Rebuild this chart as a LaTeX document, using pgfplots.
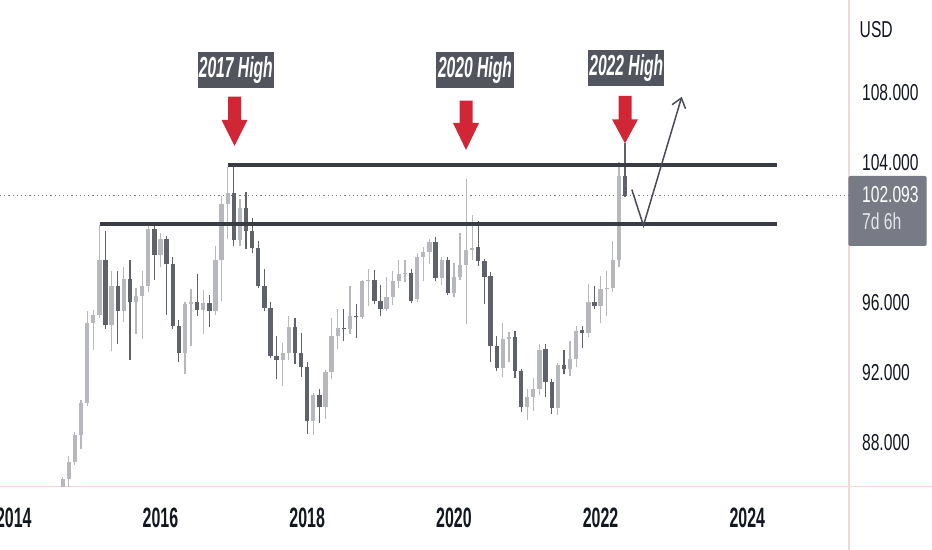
\documentclass[border=0pt]{standalone}
\usepackage{pgfplots}
\pgfplotsset{compat=1.18}
\usepackage{pgfplotstable}
\usetikzlibrary{arrows.meta}
\usepackage{fontspec}
\setmainfont{Liberation Sans}[FakeStretch=0.68]
\newfontfamily\annfont{Liberation Sans}[FakeStretch=0.54]
\newfontfamily\xfont{Liberation Sans}[FakeStretch=0.57]

\definecolor{upc}{RGB}{182,184,190}
\definecolor{dnc}{RGB}{95,98,106}
\definecolor{lvl}{RGB}{58,60,68}
\definecolor{zig}{RGB}{74,76,85}
\definecolor{annbg}{RGB}{82,85,94}
\definecolor{arr}{RGB}{209,38,54}
\definecolor{pinkb}{RGB}{247,214,218}
\definecolor{tagbg}{RGB}{120,123,134}
\definecolor{txt}{RGB}{19,23,34}
\definecolor{dotc}{RGB}{120,123,134}

% t = year + month/12 (Jan = .000)
\pgfplotstableread{
t o h l c
2014.667 82.75 86.05 82.60 85.94
2014.750 85.94 87.20 84.47 86.87
2014.833 86.87 88.60 86.70 88.40
2014.917 88.40 90.40 87.60 90.27
2015.000 90.27 95.50 90.06 94.80
2015.083 94.80 95.55 93.30 95.30
2015.167 95.30 100.45 95.10 98.40
2015.333 94.70 97.80 93.20 96.95
2015.500 95.50 98.00 94.90 97.35
2015.667 96.00 96.80 94.20 96.35
2015.750 96.35 97.80 93.90 96.95
2015.833 96.95 100.45 96.60 100.20
2016.000 98.70 99.95 98.00 99.60
2016.333 93.10 96.00 91.90 95.90
2016.417 95.90 96.75 93.50 96.05
2016.583 95.55 96.70 94.20 95.95
2016.750 95.50 99.20 95.30 98.45
2016.833 98.45 102.10 96.10 101.60
2016.917 101.60 103.75 99.60 102.25
2017.083 99.55 101.90 99.20 101.40
2017.667 92.70 93.70 91.20 93.10
2017.750 93.10 95.20 92.70 94.60
2018.083 89.20 90.80 88.40 90.70
2018.250 90.05 92.15 89.35 92.00
2018.333 92.00 95.10 91.60 94.10
2018.417 94.10 95.60 93.35 94.55
2018.583 94.50 96.95 94.20 95.20
2018.750 95.15 97.30 95.05 97.20
2018.833 97.20 97.90 95.80 97.30
2019.083 95.65 97.45 95.50 96.30
2019.167 96.30 97.80 95.85 97.25
2019.250 97.25 98.40 96.80 97.60
2019.333 97.60 98.45 97.15 97.68
2019.500 96.20 98.80 96.00 98.60
2019.583 98.60 99.15 97.20 98.90
2019.667 98.90 99.60 98.20 99.45
2019.833 97.40 98.60 97.00 98.40
2020.000 96.55 98.25 96.30 97.45
2020.083 97.45 99.95 97.30 98.15
2020.167 98.15 103.05 94.75 99.00
2020.250 99.00 101.00 98.40 99.10
2020.667 92.25 94.80 91.75 93.90
2020.750 93.90 94.30 92.60 94.00
2021.000 90.00 91.05 89.30 90.60
2021.083 90.60 91.70 89.80 91.05
2021.167 91.05 93.60 90.70 93.30
2021.417 89.95 92.55 89.55 92.45
2021.583 92.20 93.80 91.80 92.75
2021.667 92.75 94.65 92.30 94.35
2021.833 94.25 97.05 94.00 96.00
2022.000 95.80 97.50 94.80 96.75
2022.083 96.75 97.80 95.20 96.85
2022.167 96.85 99.50 96.60 98.45
2022.250 98.45 104.00 98.00 103.20
}\upcandles

\pgfplotstableread{
t o h l c
2015.250 98.40 100.08 94.50 94.70
2015.417 96.95 97.80 93.60 95.50
2015.583 97.35 98.40 92.70 96.00
2015.917 100.20 100.50 97.30 98.70
2016.083 99.60 99.80 95.30 98.20
2016.167 98.20 98.60 94.50 94.65
2016.250 94.65 95.00 92.60 93.10
2016.500 96.05 97.60 95.25 95.55
2016.667 95.95 96.45 94.60 95.50
2017.000 102.25 103.85 99.20 99.55
2017.167 101.40 102.30 99.05 100.10
2017.250 100.10 100.80 98.80 99.10
2017.333 99.10 99.50 96.80 96.95
2017.417 96.95 97.90 95.50 95.70
2017.500 95.70 96.00 92.80 92.95
2017.583 92.95 94.10 91.60 92.70
2017.833 94.60 95.10 92.50 93.10
2017.917 93.10 94.25 91.75 92.30
2018.000 92.30 92.60 88.50 89.20
2018.167 90.70 91.05 89.10 90.05
2018.500 94.57 95.60 93.80 94.50
2018.667 95.22 95.90 93.95 95.15
2018.917 97.30 97.85 95.90 96.10
2019.000 96.10 97.00 95.20 95.65
2019.417 97.70 97.90 95.95 96.10
2019.750 99.45 99.75 97.20 97.40
2019.917 98.40 98.60 96.40 96.55
2020.333 99.15 100.65 98.10 98.35
2020.417 98.35 98.50 95.90 97.45
2020.500 97.50 97.75 92.60 93.50
2020.583 93.50 94.10 92.10 92.25
2020.833 94.00 94.35 91.70 92.10
2020.917 92.10 92.20 89.75 90.00
2021.250 93.35 93.60 90.60 91.45
2021.333 91.45 91.60 89.65 89.95
2021.500 92.45 93.30 91.90 92.20
2021.750 94.40 94.65 93.40 94.25
2021.917 96.00 96.95 95.60 95.80
2022.333 103.20 105.10 102.00 102.093
}\dncandles

\begin{document}
\begin{tikzpicture}
\path[use as bounding box] (0pt,-31.65pt) rectangle (466pt,243.35pt);
\fill[white] (0pt,-31.65pt) rectangle (466pt,243.35pt);
% frame lines (pixel scope: x right, y down, origin = image top-left)
\begin{scope}[x=0.5pt,y=-0.5pt,shift={(0pt,243.35pt)}]
\draw[pinkb, line width=0.6pt] (0,486.7) -- (932,486.7);
\draw[pinkb, line width=0.6pt] (849,0) -- (849,550);
\end{scope}

\begin{axis}[
  at={(0pt,0pt)}, anchor=south west,
  scale only axis, width=424.5pt, height=243.35pt,
  xmin=2013.8119, xmax=2025.3865,
  ymin=85.474, ymax=113.286,
  axis x line*=bottom, axis y line*=right,
  axis line style={draw=none},
  major tick length=0pt, tick style={draw=none},
  xtick={2014,2016,2018,2020,2022,2024},
  xticklabels={2014,2016,2018,2020,2022,2024},
  ytick={88,92,96,104,108},
  yticklabels={88.000,92.000,96.000,104.000,108.000},
  xticklabel style={anchor=base, yshift=-20.65pt, inner sep=0pt, text=txt,
     font=\xfont\bfseries\fontsize{14}{16}\selectfont},
  yticklabel style={anchor=west, xshift=6.35pt, inner sep=0pt, text=txt,
     font=\fontsize{11.5}{13}\selectfont},
  clip=true,
]
% current price dotted line
\draw[dotc, line width=0.55pt, dash pattern=on 0.6pt off 1.5pt]
  (axis cs:2013.8119,102.093) -- (axis cs:2025.3865,102.093);

% wicks
\addplot[draw=none, forget plot, error bars/.cd, y dir=plus, y explicit, error mark=none,
  error bar style={draw=upc, line width=0.6pt}]
  table[x=t, y=l, y error expr=\thisrow{h}-\thisrow{l}] {\upcandles};
\addplot[draw=none, forget plot, error bars/.cd, y dir=plus, y explicit, error mark=none,
  error bar style={draw=dnc, line width=0.6pt}]
  table[x=t, y=l, y error expr=\thisrow{h}-\thisrow{l}] {\dncandles};
% bodies
\addplot[draw=none, forget plot, error bars/.cd, y dir=plus, y explicit, error mark=none,
  error bar style={draw=upc, line width=2.15pt}]
  table[x=t, y=o, y error expr={max(\thisrow{c}-\thisrow{o},0.07)}] {\upcandles};
\addplot[draw=none, forget plot, error bars/.cd, y dir=plus, y explicit, error mark=none,
  error bar style={draw=dnc, line width=2.15pt}]
  table[x=t, y=c, y error expr={max(\thisrow{o}-\thisrow{c},0.07)}] {\dncandles};

% drawn levels
\draw[lvl, line width=2pt] (axis cs:2016.924,103.85) -- (axis cs:2024.405,103.85);
\draw[lvl, line width=2pt] (axis cs:2015.170,100.50) -- (axis cs:2024.405,100.50);
% projected path
\draw[zig, line width=0.75pt, -{Straight Barb[length=4.5pt,width=7pt]}]
  (axis cs:2022.426,102.45) -- (axis cs:2022.584,100.40) -- (axis cs:2023.106,107.75);
\end{axis}

\begin{scope}[x=0.5pt,y=-0.5pt,shift={(0pt,243.35pt)}]
% annotation boxes
\fill[annbg] (197.7,51.7) rectangle (274,87.7);
\node[text=white, inner sep=0pt] at (235.8,69.7)
  {\annfont\bfseries\itshape\fontsize{14.5}{16}\selectfont 2017 High};
\fill[annbg] (436,51.7) rectangle (514,87.7);
\node[text=white, inner sep=0pt] at (475,69.7)
  {\annfont\bfseries\itshape\fontsize{14.5}{16}\selectfont 2020 High};
\fill[annbg] (588.3,50) rectangle (664.3,86);
\node[text=white, inner sep=0pt] at (626.3,68)
  {\annfont\bfseries\itshape\fontsize{14.5}{16}\selectfont 2022 High};
% red arrows
\fill[arr] (228,96.7) -- (241,96.7) -- (241,120) -- (247.5,120) -- (234.5,146) -- (221.5,120) -- (228,120) -- cycle;
\fill[arr] (459.5,100.7) -- (472.5,100.7) -- (472.5,123) -- (479,123) -- (466,150) -- (453,123) -- (459.5,123) -- cycle;
\fill[arr] (618.5,96) -- (631.5,96) -- (631.5,119.3) -- (638,119.3) -- (625,143.3) -- (612,119.3) -- (618.5,119.3) -- cycle;
% price tag
\fill[tagbg, rounded corners=1pt] (848.3,176) rectangle (926.7,246);
\node[anchor=west, inner sep=0pt, text=white] at (861.7,195)
  {\fontsize{11.5}{13}\selectfont 102.093};
\node[anchor=west, inner sep=0pt, text={rgb,255:red,228;green,230;blue,236}] at (861.7,221.7)
  {\fontsize{11.5}{13}\selectfont 7d 6h};
% currency
\node[anchor=west, inner sep=0pt, text=txt] at (859.3,30)
  {\fontsize{11.5}{13}\selectfont USD};
\end{scope}
\end{tikzpicture}
\end{document}
